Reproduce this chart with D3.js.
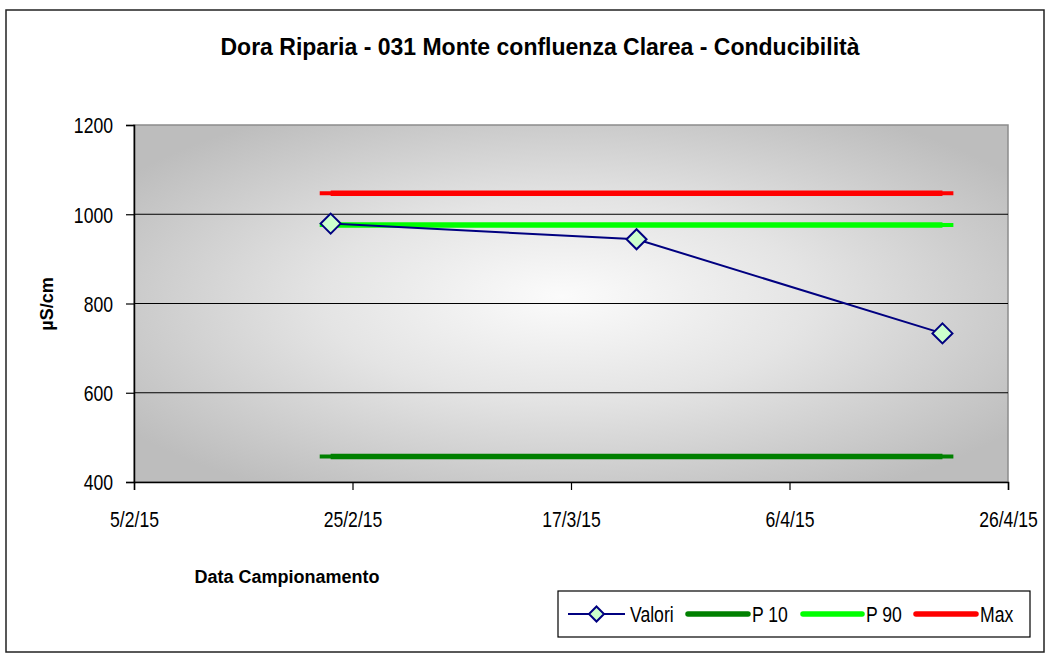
<!DOCTYPE html>
<html>
<head>
<meta charset="utf-8">
<script src="https://cdn.jsdelivr.net/npm/d3@7"></script>
<style>
  html, body { margin: 0; padding: 0; background: #ffffff; }
  svg { display: block; }
</style>
</head>
<body>
<script>
// ---------- data ----------
const title = "Dora Riparia - 031 Monte confluenza Clarea - Conducibilità";
const yTitle = "µS/cm";
const xTitle = "Data Campionamento";
const sampleDates = ["2015-02-23", "2015-03-23", "2015-04-20"];
const valori = [979, 944, 733];
const p10 = [457, 457, 457];
const p90 = [976, 976, 976];
const maxv = [1047, 1047, 1047];
const xTickDates = ["2015-02-05", "2015-02-25", "2015-03-17", "2015-04-06", "2015-04-26"];
const xTickLabels = ["5/2/15", "25/2/15", "17/3/15", "6/4/15", "26/4/15"];
const yTicks = [400, 600, 800, 1000, 1200];
const seriesNames = ["Valori", "P 10", "P 90", "Max"];
const seriesColors = ["#000080", "#008000", "#00ff00", "#ff0000"];

// ---------- layout ----------
const W = 1050, H = 656;
const plot = { left: 134, top: 125, right: 1008, bottom: 482 };
const FONT = "'Liberation Sans', Arial, sans-serif";
const NARROW = 0.8; // horizontal squeeze to mimic the condensed lettering
const parse = d3.timeParse("%Y-%m-%d");
const dates = sampleDates.map(parse);

const svg = d3.select("body").append("svg").attr("width", W).attr("height", H);

// outer border
svg.append("rect").attr("x", 6).attr("y", 10).attr("width", 1038).attr("height", 642)
  .attr("fill", "#fff").attr("stroke", "#222").attr("stroke-width", 1.5);

const x = d3.scaleTime().domain([parse(xTickDates[0]), parse(xTickDates[xTickDates.length - 1])])
  .range([plot.left, plot.right]);
const y = d3.scaleLinear().domain([400, 1200]).range([plot.bottom, plot.top]);

// gradient background
const defs = svg.append("defs");
const grad = defs.append("radialGradient").attr("id", "bg")
  .attr("cx", "50%").attr("cy", "50%").attr("r", "62%").attr("fx", "49%").attr("fy", "48%");
grad.append("stop").attr("offset", "0%").attr("stop-color", "#fbfbfb");
grad.append("stop").attr("offset", "45%").attr("stop-color", "#e4e4e4");
grad.append("stop").attr("offset", "100%").attr("stop-color", "#bdbdbd");

svg.append("rect").attr("x", plot.left).attr("y", plot.top)
  .attr("width", plot.right - plot.left).attr("height", plot.bottom - plot.top)
  .attr("fill", "url(#bg)").attr("stroke", "#8c8c8c").attr("stroke-width", 1.5);

// gridlines
svg.append("g").selectAll("line").data(yTicks.filter(v => v > 400 && v < 1200)).join("line")
  .attr("x1", plot.left).attr("x2", plot.right)
  .attr("y1", d => y(d)).attr("y2", d => y(d))
  .attr("stroke", "#000").attr("stroke-width", 1);

// axes
const yAxis = d3.axisLeft(y).tickValues(yTicks).tickSize(8).tickPadding(6).tickFormat(d3.format("d"));
const gy = svg.append("g").attr("transform", `translate(${plot.left},0)`).call(yAxis);
gy.select(".domain").attr("stroke", "#000").attr("stroke-width", 1.5);
gy.selectAll(".tick line").attr("stroke", "#000").attr("stroke-width", 1.2);
gy.selectAll(".tick text").attr("font-family", FONT)
  .attr("font-size", 22).attr("fill", "#000").attr("dy", "0.36em")
  .attr("x", -21 / NARROW).attr("transform", `scale(${NARROW},1)`);

const xAxis = d3.axisBottom(x).tickValues(xTickDates.map(parse)).tickSize(8).tickPadding(21)
  .tickFormat((d, i) => xTickLabels[i]);
const gx = svg.append("g").attr("transform", `translate(0,${plot.bottom})`).call(xAxis);
gx.select(".domain").attr("stroke", "#000").attr("stroke-width", 1.5);
gx.selectAll(".tick line").attr("stroke", "#000").attr("stroke-width", 1.2);
gx.selectAll(".tick text").attr("font-family", FONT)
  .attr("font-size", 22).attr("fill", "#000").attr("transform", `scale(${NARROW},1)`);

// reference lines (thick body + thin end stubs, like the original)
const refSeries = [p10, p90, maxv];
const lineGen = d3.line().x(d => x(d[0])).y(d => y(d[1]));
refSeries.forEach((vals, k) => {
  const color = seriesColors[k + 1];
  const first = dates[0], last = dates[dates.length - 1];
  const stub = [[d3.timeDay.offset(first, -1), vals[0]], [d3.timeDay.offset(last, 1), vals[vals.length - 1]]];
  svg.append("path").attr("d", lineGen(stub)).attr("fill", "none")
    .attr("stroke", color).attr("stroke-width", 4);
  svg.append("path").attr("d", lineGen(dates.map((d, i) => [d, vals[i]]))).attr("fill", "none")
    .attr("stroke", color).attr("stroke-width", 5.5);
});

// Valori
svg.append("path").attr("d", lineGen(dates.map((d, i) => [d, valori[i]])))
  .attr("fill", "none").attr("stroke", seriesColors[0]).attr("stroke-width", 2);
const diamond = r => `M0,${-r}L${r},0L0,${r}L${-r},0Z`;
svg.append("g").selectAll("path").data(dates.map((d, i) => [d, valori[i]])).join("path")
  .attr("transform", d => `translate(${x(d[0])},${y(d[1])})`)
  .attr("d", diamond(10))
  .attr("fill", "#ccffcc").attr("stroke", "#000080").attr("stroke-width", 2);

// titles
svg.append("text").attr("x", 540).attr("y", 55).attr("text-anchor", "middle")
  .attr("font-family", FONT).attr("font-weight", "bold")
  .attr("font-size", 23).attr("fill", "#000").text(title);

svg.append("text").attr("transform", "translate(53,304) rotate(-90)").attr("text-anchor", "middle")
  .attr("font-family", FONT).attr("font-weight", "bold")
  .attr("font-size", 18).attr("fill", "#000").text(yTitle);

svg.append("text").attr("x", 287).attr("y", 583).attr("text-anchor", "middle")
  .attr("font-family", FONT).attr("font-weight", "bold")
  .attr("font-size", 18).attr("fill", "#000").text(xTitle);

// legend
const lg = svg.append("g");
lg.append("rect").attr("x", 558).attr("y", 591).attr("width", 472).attr("height", 46)
  .attr("fill", "#fff").attr("stroke", "#000").attr("stroke-width", 1.2);
const legendItems = [
  { name: seriesNames[0], color: seriesColors[0], x0: 568, x1: 625, tx: 630, marker: true },
  { name: seriesNames[1], color: seriesColors[1], x0: 688, x1: 748, tx: 752 },
  { name: seriesNames[2], color: seriesColors[2], x0: 803, x1: 862, tx: 866 },
  { name: seriesNames[3], color: seriesColors[3], x0: 916, x1: 976, tx: 980 }
];
const ly = 614;
legendItems.forEach(it => {
  lg.append("line").attr("x1", it.x0).attr("x2", it.x1).attr("y1", ly).attr("y2", ly)
    .attr("stroke", it.color).attr("stroke-width", it.marker ? 2 : 5.5)
    .attr("stroke-linecap", it.marker ? "butt" : "round");
  if (it.marker) {
    lg.append("path").attr("transform", `translate(${(it.x0 + it.x1) / 2},${ly})`)
      .attr("d", diamond(7.5)).attr("fill", "#ccffcc").attr("stroke", "#000080").attr("stroke-width", 2);
  }
  lg.append("text").attr("transform", `translate(${it.tx},${ly}) scale(${NARROW},1)`)
    .attr("dy", "0.36em")
    .attr("font-family", FONT)
    .attr("font-size", 22).attr("fill", "#000").text(it.name);
});
</script>
</body>
</html>
